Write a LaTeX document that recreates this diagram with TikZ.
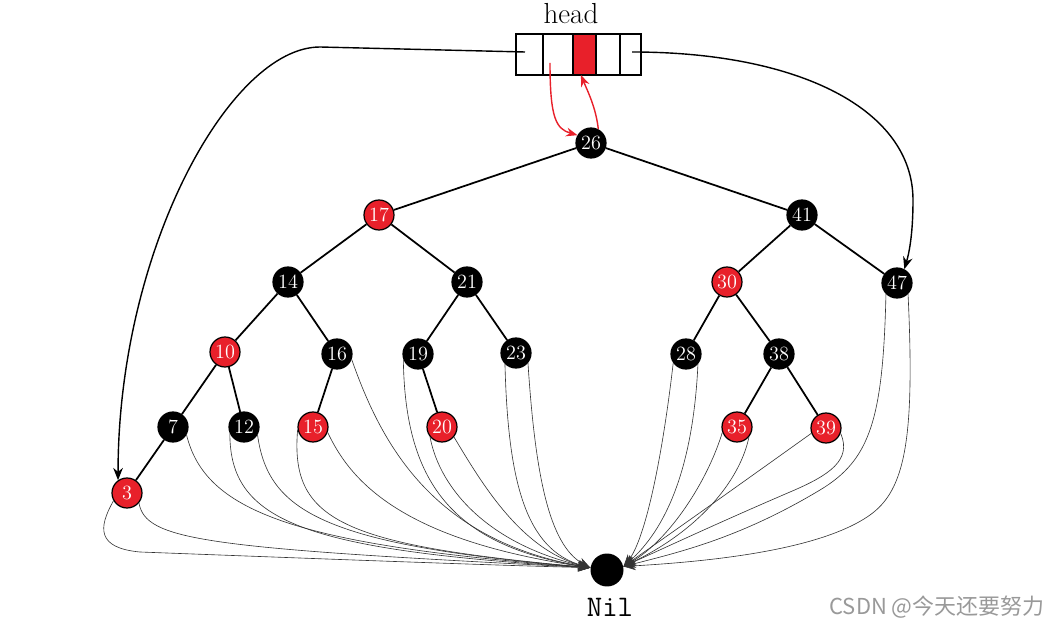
\documentclass[tikz,border=0pt]{standalone}
\usepackage{fontspec}
\newfontfamily\cjkfont{Noto Sans CJK SC}
\usetikzlibrary{arrows.meta}
\definecolor{rbred}{HTML}{E8202A}
\begin{document}
\begin{tikzpicture}[x=0.02cm,y=-0.02cm,
  bn/.style={circle,draw=black,fill=black,text=white,minimum size=0.6cm,inner sep=0pt,line width=0.7pt,font=\fontsize{11.5}{12}\selectfont},
  rn/.style={bn,fill=rbred},
  edge/.style={line width=1pt},
  nilc/.style={draw=black!80,line width=0.35pt,-{Stealth[length=7pt,width=5pt]}},
  headarr/.style={line width=0.8pt,-{Stealth[length=7pt,width=5.5pt]}},
  redarr/.style={draw=rbred,line width=0.8pt,-{Stealth[length=6.5pt,width=5pt]}},
  cell/.style={draw=black,line width=0.9pt,minimum height=0.82cm,inner sep=0pt,outer sep=0pt}]
\useasboundingbox (0,0) rectangle (1059,628);

% head array
\node[font=\fontsize{16.5}{19}\selectfont] (headlab) at (571,14) {head};
\node[cell,minimum width=0.54cm] (c1) at (529.5,54.5) {};
\node[cell,minimum width=0.60cm] (c2) at (558,54.5) {};
\node[cell,minimum width=0.46cm,fill=rbred] (c3) at (584.5,54.5) {};
\node[cell,minimum width=0.48cm] (c4) at (608,54.5) {};
\node[cell,minimum width=0.42cm] (c5) at (630.5,54.5) {};
\coordinate (hl) at (525,52);
\coordinate (hr) at (632,52);
\coordinate (p2) at (550,63);

% tree nodes
\node[bn] (n26) at (591,143) {26};
\node[rn] (n17) at (379,215) {17};
\node[bn] (n41) at (802,215) {41};
\node[bn] (n14) at (288,282) {14};
\node[bn] (n21) at (467,282) {21};
\node[rn] (n30) at (727,282) {30};
\node[bn] (n47) at (897,283) {47};
\node[rn] (n10) at (225,352) {10};
\node[bn] (n16) at (337,354) {16};
\node[bn] (n19) at (418,354) {19};
\node[bn] (n23) at (516,353) {23};
\node[bn] (n28) at (686,354) {28};
\node[bn] (n38) at (779,354) {38};
\node[bn] (n7) at (173,427) {7};
\node[bn] (n12) at (244,427) {12};
\node[rn] (n15) at (313,427) {15};
\node[rn] (n20) at (442,427) {20};
\node[rn] (n35) at (737,427) {35};
\node[rn] (n39) at (826,428) {39};
\node[rn] (n3) at (127,493) {3};
\node[circle,fill=black,minimum size=0.66cm,inner sep=0pt] (nil) at (607,570) {};
\node[font=\ttfamily\fontsize{17}{19}\selectfont] (nillab) at (610,607) {Nil};
\node[font=\cjkfont\fontsize{12.5}{14}\selectfont,text=black!40] (wm) at (937,607) {CSDN @今天还要努力};

% tree edges
\foreach \a/\b in {26/17,26/41,17/14,17/21,41/30,41/47,14/10,14/16,21/19,21/23,30/28,30/38,10/7,10/12,16/15,19/20,38/35,38/39,7/3}
  \draw[edge] (n\a) -- (n\b);

% head pointers
\draw[headarr] (hl) -- (320,47) .. controls (230,47) and (118,250) .. (n3.125);
\draw[headarr] (hr) .. controls (800,52) and (913,110) .. (913,200) .. controls (913,230) and (910,250) .. (n47.62);
\draw[redarr] (p2) .. controls (550,118) and (556,129) .. (n26.150);
\draw[redarr] (n26.62) .. controls (596,108) and (588,92) .. (c3.-100);

% nil pointers (left)
\draw[nilc] (n3.210) .. controls (98,528) and (97,548) .. (140,552) .. controls (300,558) and (480,565) .. (nil.172);
\draw[nilc] (n3.320) .. controls (146,540) and (200,548) .. (nil.172);
\draw[nilc] (n7.330) .. controls (205,510) and (290,545) .. (nil.172);
\draw[nilc] (n12.205) .. controls (230,520) and (300,550) .. (nil.172);
\draw[nilc] (n12.330) .. controls (268,510) and (320,545) .. (nil.172);
\draw[nilc] (n15.190) .. controls (290,520) and (340,545) .. (nil.172);
\draw[nilc] (n15.340) .. controls (350,480) and (400,540) .. (nil.172);
\draw[nilc] (n16.340) .. controls (380,440) and (430,540) .. (nil.172);
\draw[nilc] (n19.200) .. controls (405,480) and (450,545) .. (nil.172);
\draw[nilc] (n20.220) .. controls (440,490) and (490,545) .. (nil.172);
\draw[nilc] (n20.320) .. controls (480,480) and (520,550) .. (nil.172);
\draw[nilc] (n23.225) .. controls (508,480) and (525,550) .. (nil.172);
\draw[nilc] (n23.320) .. controls (535,470) and (548,545) .. (nil.172);
% nil pointers (right)
\draw[nilc] (n28.215) .. controls (662,460) and (645,540) .. (nil.12);
\draw[nilc] (n28.320) .. controls (693,470) and (665,530) .. (nil.12);
\draw[nilc] (n35.200) .. controls (708,480) and (670,540) .. (nil.12);
\draw[nilc] (n35.320) .. controls (740,480) and (700,530) .. (nil.12);
\draw[nilc] (n39.200) .. controls (760,470) and (690,520) .. (nil.12);
\draw[nilc] (n39.340) .. controls (852,460) and (830,475) .. (790,492) .. controls (720,522) and (660,550) .. (nil.12);
\draw[nilc] (n47.225) .. controls (883,420) and (870,460) .. (820,490) .. controls (740,538) and (680,552) .. (nil.12);
\draw[nilc] (n47.315) .. controls (915,440) and (905,490) .. (870,515) .. controls (818,552) and (700,562) .. (nil.12);
\end{tikzpicture}
\end{document}
